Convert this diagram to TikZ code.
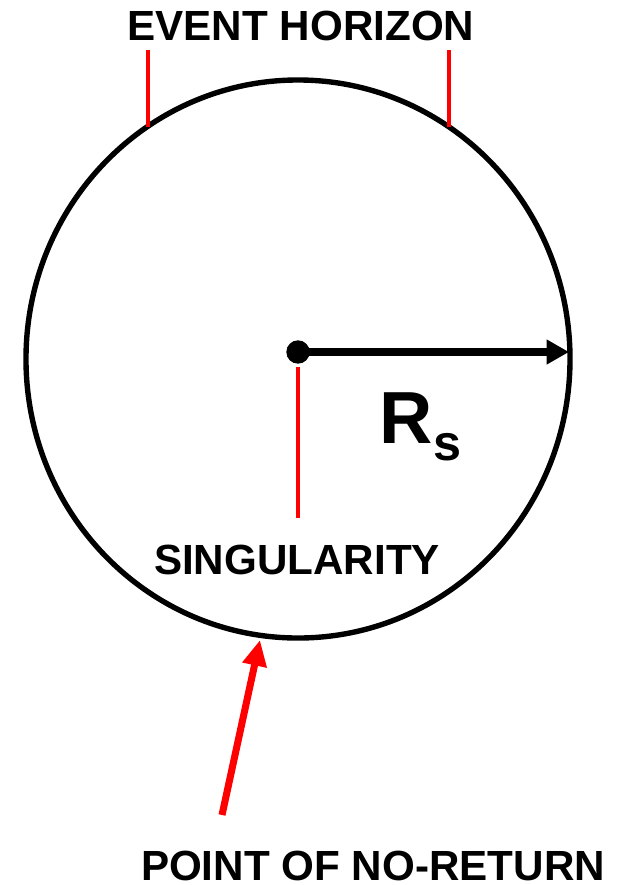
\documentclass[tikz,border=0pt]{standalone}
\usepackage{fontspec}
\setmainfont{Liberation Sans}
\usetikzlibrary{arrows.meta, shapes.geometric, calc}
\definecolor{markred}{HTML}{FF0000}

\begin{document}
\begin{tikzpicture}[
    x=0.03cm, y=-0.03cm,
    % 1. Labels
    label/.style={
        inner sep=0pt,
        anchor=base,
        font=\fontsize{36pt}{40pt}\selectfont\bfseries
    },
    % 2. Event horizon
    horizonbox/.style={
        draw=black,
        ellipse,
        line width=4.6pt,
        inner sep=0pt,
        minimum width=16.32cm,
        minimum height=16.74cm
    },
    % 3. Red marker lines
    marker/.style={
        draw=markred,
        line width=4pt
    },
    % Radius arrow
    radiusarrow/.style={
        -{Triangle[length=19pt, width=20pt]},
        line width=6.4pt,
        draw=black
    },
    % Red pointer arrow
    pointarrow/.style={
        -{Triangle[length=22pt, width=20pt]},
        line width=6pt,
        draw=markred
    }
]
    \useasboundingbox (0,0) rectangle (621,885);

    % --- 1. Main nodes ---
    \node[horizonbox] (horizon) at (298,359) {};
    \node[circle, fill=black, inner sep=0pt, minimum size=0.7cm] (singular) at (298,352) {};

    % Labels
    \node[label] (evtext) at (301,40) {EVENT HORIZON};
    \node[label] (singtext) at (297,574) {SINGULARITY};
    \node[label] (ptext) at (373,880) {POINT OF NO-RETURN};
    \node[inner sep=0pt, anchor=base west,
          font=\fontsize{63pt}{70pt}\selectfont\bfseries] (rlabel) at (379,443) {R};
    \node[inner sep=0pt, anchor=base west,
          font=\fontsize{43pt}{48pt}\selectfont\bfseries] (slabel) at (rlabel.base east |- 0,460) {s};

    % --- 2. Marker coordinates ---
    \coordinate (evleft top) at (148,50);
    \coordinate (evleft bot) at (148,127);
    \coordinate (evright top) at (449,50);
    \coordinate (evright bot) at (449,127);
    \coordinate (sing top) at (298,367);
    \coordinate (sing bot) at (298,518);
    \coordinate (rim) at (569,352);
    \coordinate (tail) at (222,815);
    \coordinate (tip) at (260,640);

    % --- 3. Connectors ---
    \draw[marker] (evleft top) -- (evleft bot);
    \draw[marker] (evright top) -- (evright bot);
    \draw[marker] (sing top) -- (sing bot);
    \draw[radiusarrow] (singular.center) -- (rim);
    \draw[pointarrow] (tail) -- (tip);

\end{tikzpicture}
\end{document}
